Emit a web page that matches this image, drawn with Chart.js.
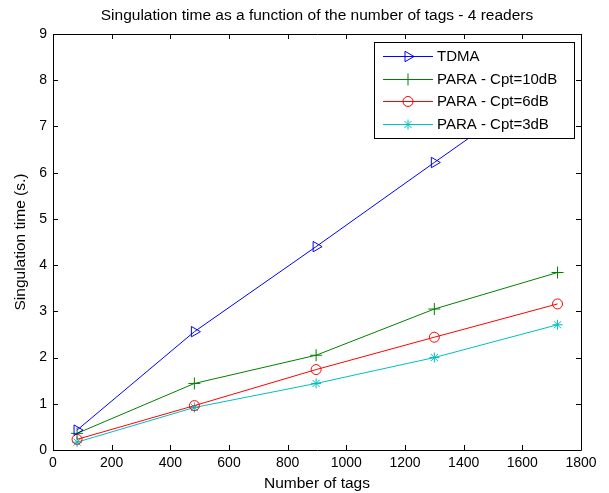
<!DOCTYPE html>
<html>
<head>
<meta charset="utf-8">
<script src="https://cdn.jsdelivr.net/npm/chart.js@4"></script>
<style>
  html, body { margin: 0; padding: 0; background: #fff; }
  #wrap { width: 609px; height: 493px; }
</style>
</head>
<body>
<div id="wrap"><canvas id="chart" width="609" height="493"></canvas></div>
<script>
// data
const numTags = [82, 482, 897, 1300, 1720];
const tdma = [0.43, 2.56, 4.4, 6.22, 8.1];
const cpt10 = [0.36, 1.44, 2.05, 3.05, 3.84];
const cpt6 = [0.23, 0.96, 1.74, 2.44, 3.16];
const cpt3 = [0.17, 0.92, 1.44, 2.0, 2.71];
const seriesNames = ['TDMA', 'PARA - Cpt=10dB', 'PARA - Cpt=6dB', 'PARA - Cpt=3dB'];
const xTicks = [0, 200, 400, 600, 800, 1000, 1200, 1400, 1600, 1800];
const yTicks = [0, 1, 2, 3, 4, 5, 6, 7, 8, 9];

const FONT = 'Liberation Sans, Arial, sans-serif';

function pts(ys) {
    return numTags.map((x, i) => ({ x: x, y: ys[i] }));
}

function makeSet(label, ys, color, style, rot, radius) {
    return {
        label: label,
        data: pts(ys),
        borderColor: color,
        backgroundColor: 'rgba(0,0,0,0)',
        borderWidth: 1,
        pointStyle: style,
        pointRotation: rot,
        pointRadius: radius,
        pointBorderColor: color,
        pointBorderWidth: 1,
        pointBackgroundColor: 'rgba(0,0,0,0)',
        tension: 0
    };
}

const datasets = [
    makeSet(seriesNames[0], tdma, '#0000ff', 'triangle', 90, 6),
    makeSet(seriesNames[1], cpt10, '#008000', 'cross', 0, 6),
    makeSet(seriesNames[2], cpt6, '#ff0000', 'circle', 0, 5),
    makeSet(seriesNames[3], cpt3, '#00bfbf', 'star', 0, 5)
];

// MATLAB style box with inward ticks
const boxPlugin = {
    id: 'box',
    afterDraw(chart) {
        const c = chart.ctx, a = chart.chartArea;
        const xs = chart.scales.x, ys = chart.scales.y;
        c.save();
        c.strokeStyle = '#000';
        c.lineWidth = 1;
        c.beginPath();
        c.rect(Math.round(a.left) + 0.5, Math.round(a.top) + 0.5,
               Math.round(a.right - a.left), Math.round(a.bottom - a.top));
        c.stroke();
        c.beginPath();
        xTicks.forEach(v => {
            const px = Math.round(xs.getPixelForValue(v)) + 0.5;
            c.moveTo(px, a.bottom); c.lineTo(px, a.bottom - 5);
            c.moveTo(px, a.top); c.lineTo(px, a.top + 5);
        });
        yTicks.forEach(v => {
            const py = Math.round(ys.getPixelForValue(v)) + 0.5;
            c.moveTo(a.left, py); c.lineTo(a.left + 5, py);
            c.moveTo(a.right, py); c.lineTo(a.right - 5, py);
        });
        c.stroke();
        c.restore();
    }
};

// legend box inside the plot, top right
const legendPlugin = {
    id: 'boxLegend',
    afterDraw(chart) {
        const c = chart.ctx;
        const left = 374, top = 42, w = 200, h = 96;
        c.save();
        c.fillStyle = '#fff';
        c.fillRect(left, top, w, h);
        c.strokeStyle = '#000';
        c.lineWidth = 1;
        c.strokeRect(left + 0.5, top + 0.5, w, h);
        c.textBaseline = 'middle';
        chart.data.datasets.forEach((ds, i) => {
            const y = Math.round(top + 14 + i * 22.7) + 0.5;
            c.strokeStyle = ds.borderColor;
            c.lineWidth = 1;
            c.beginPath();
            c.moveTo(383, y);
            c.lineTo(433, y);
            c.stroke();
            c.fillStyle = 'rgba(0,0,0,0)';
            Chart.helpers.drawPoint(c, {
                pointStyle: ds.pointStyle,
                rotation: ds.pointRotation,
                radius: ds.pointRadius,
                borderWidth: 1
            }, 408, y);
            c.fillStyle = '#000';
            c.font = '15px ' + FONT;
            c.fillText(ds.label, 437, y + 0.5);
        });
        c.restore();
    }
};

new Chart(document.getElementById('chart'), {
    type: 'line',
    data: { datasets: datasets },
    options: {
        responsive: false,
        animation: false,
        layout: { padding: { top: 0, left: 0, right: 28, bottom: 0 } },
        plugins: {
            legend: { display: false },
            tooltip: { enabled: false },
            title: {
                display: true,
                fullSize: false,
                text: 'Singulation time as a function of the number of tags - 4 readers',
                color: '#000',
                font: { family: FONT, size: 15.5, weight: 'normal' },
                padding: { top: 6, bottom: 9.4 }
            }
        },
        scales: {
            x: {
                type: 'linear',
                min: 0, max: 1800,
                afterBuildTicks: s => { s.ticks = xTicks.map(v => ({ value: v })); },
                afterFit: s => { s.height = 43; },
                grid: { display: false, drawTicks: false },
                border: { display: false },
                ticks: { color: '#000', padding: 5, maxRotation: 0, callback: v => String(v),
                         font: { family: FONT, size: 14 } },
                title: { display: true, text: 'Number of tags', color: '#000', padding: 0,
                         font: { family: FONT, size: 15.5 } }
            },
            y: {
                type: 'linear',
                min: 0, max: 9,
                afterBuildTicks: s => { s.ticks = yTicks.map(v => ({ value: v })); },
                afterFit: s => { s.width = 53; },
                grid: { display: false, drawTicks: false },
                border: { display: false },
                ticks: { color: '#000', padding: 6, callback: v => String(v),
                         font: { family: FONT, size: 14 } },
                title: { display: true, text: 'Singulation time (s.)', color: '#000',
                         padding: { top: 11, bottom: 0 },
                         font: { family: FONT, size: 15.5 } }
            }
        }
    },
    plugins: [boxPlugin, legendPlugin]
});
</script>
</body>
</html>
